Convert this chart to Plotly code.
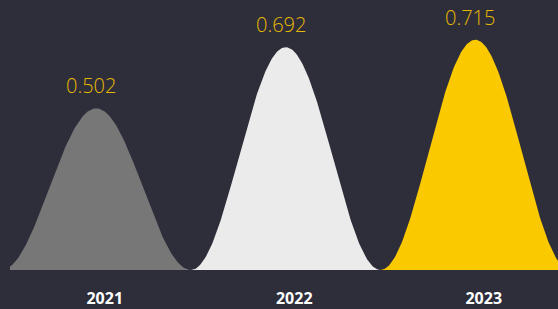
import numpy as np
import plotly.graph_objects as go

categories = ["2021", "2022", "2023"]
values = [0.502, 0.692, 0.715]
fill_colors = ["#777777", "#ebebeb", "#fbc900"]

BG = "#2e2e3b"
LABEL_COLOR = "#e8b900"
center_offset = -0.045
half_width = 0.5

fig = go.Figure()
t = np.linspace(-1, 1, 201)
for i, (cat, v, c) in enumerate(zip(categories, values, fill_colors)):
    xs = i + center_offset + t * half_width
    ys = v * (1 + np.cos(np.pi * t)) / 2
    fig.add_trace(go.Scatter(x=xs, y=ys, mode="lines", fill="tozeroy",
                             fillcolor=c, line=dict(width=0, color=c),
                             hoverinfo="skip", showlegend=False))
    fig.add_annotation(x=i + center_offset, y=v, text=f"{v:.3f}",
                       showarrow=False, yanchor="bottom", xanchor="center",
                       xshift=-5, yshift=7,
                       font=dict(family="Open Sans", size=20, color=LABEL_COLOR, weight=300))

plot_px = 548
band_px = 189.5
fig.update_layout(
    width=558, height=309,
    margin=dict(l=10, r=0, t=0, b=39),
    paper_bgcolor=BG, plot_bgcolor=BG,
    xaxis=dict(range=[-0.5, -0.5 + plot_px / band_px], tickmode="array",
               tickvals=list(range(len(categories))), ticktext=categories,
               showgrid=False, zeroline=False, showline=False, ticks="",
               tickfont=dict(family="Open Sans", size=16, color="#ffffff", weight="bold"),
               ticklabelstandoff=17, fixedrange=True),
    yaxis=dict(range=[0, 270 / 322], showgrid=False, zeroline=False,
               showticklabels=False, ticks="", fixedrange=True),
)
fig.write_html("out.html", config={"displayModeBar": False},
               post_script="document.body.style.margin='0';document.body.style.overflow='hidden';")
